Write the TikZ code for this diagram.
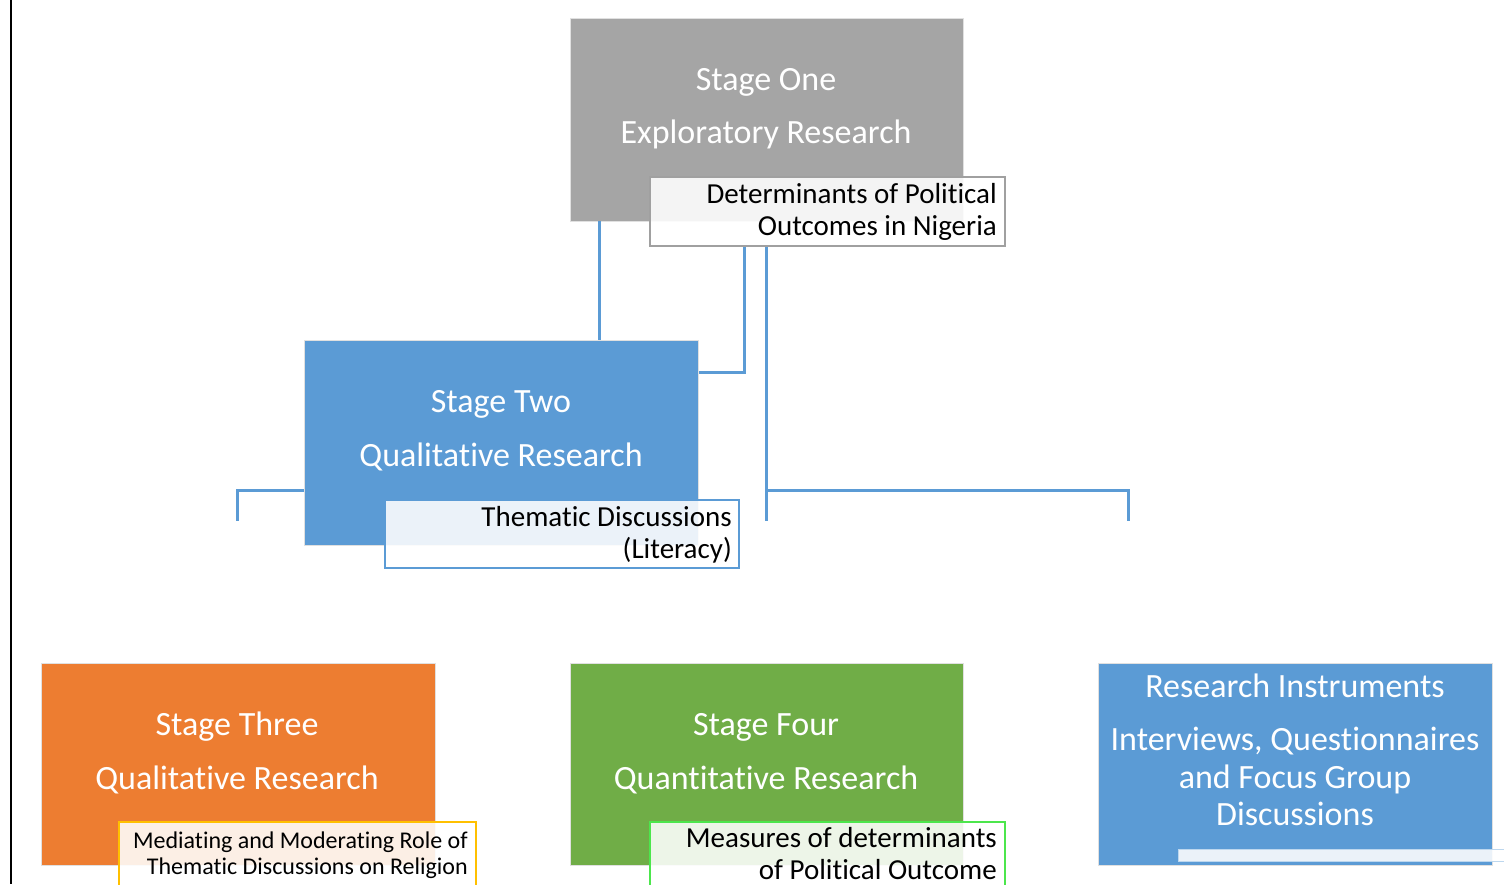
\documentclass[tikz,border=0pt]{standalone}
\usepackage{fontspec}
\setmainfont{Carlito}[RawFeature={-liga;-clig;-dlig}]
\definecolor{sgray}{HTML}{A5A5A5}
\definecolor{sgrayline}{HTML}{A0A0A0}
\definecolor{sblue}{HTML}{5B9BD5}
\definecolor{sorange}{HTML}{ED7D31}
\definecolor{sgreen}{HTML}{70AD47}
\definecolor{sgold}{HTML}{FFC000}
\definecolor{slime}{HTML}{4CE64C}
\begin{document}
\begin{tikzpicture}[x=1pt,y=-1pt,
  stagebox/.style={draw=black!12, line width=1pt, inner sep=0pt, anchor=north west},
  subbox/.style={fill=white, fill opacity=0.88, line width=2pt, inner sep=0pt, anchor=north west},
  maintext/.style={text=white, font=\fontsize{34}{40}\selectfont, anchor=base, inner sep=0pt},
  subtext/.style={text=black, font=\fontsize{29}{34}\selectfont, anchor=base east, inner sep=0pt},
  smalltext/.style={text=black, font=\fontsize{24}{28}\selectfont, anchor=base east, inner sep=0pt},
  conn/.style={draw=sblue, line width=3pt}
]
\useasboundingbox (0,0) rectangle (1504,884);
\fill[white] (0,0) rectangle (1504,884);
\clip (0,0) rectangle (1504,884);
\draw[black, line width=2pt] (11,0) -- (11,884);

% boxes
\node[stagebox, fill=sgray, minimum width=393pt, minimum height=203pt] (s1) at (570,18) {};
\node[stagebox, fill=sblue, minimum width=394pt, minimum height=205pt] (s2) at (304,340) {};
\node[stagebox, fill=sorange, minimum width=394pt, minimum height=202pt] (s3) at (41,663) {};
\node[stagebox, fill=sgreen, minimum width=393pt, minimum height=202pt] (s4) at (570,663) {};
\node[stagebox, fill=sblue, minimum width=394pt, minimum height=202pt] (s5) at (1098,663) {};

% connector coordinates
\coordinate (a1) at (599,221);
\coordinate (a2) at (599,340);
\coordinate (b1) at (744,245);
\coordinate (b2) at (744,372);
\coordinate (c1) at (766,245);
\coordinate (c2) at (766,521);
\coordinate (c3) at (1128,521);
\coordinate (cj) at (766,490);
\coordinate (d1) at (237,521);
\coordinate (dj) at (304,490);

\draw[conn] (a1) -- (a2);
\draw[conn] (b1) -- (b2) -- (b2 -| s2.east);
\draw[conn] (c1) -- (c2);
\draw[conn] (cj) -| (c3);
\draw[conn] (dj) -| (d1);

% sub boxes
\node[subbox, draw=sgrayline, minimum width=355pt, minimum height=69pt] (u1) at (649,176) {};
\node[subbox, draw=sblue, minimum width=354pt, minimum height=68pt] (u2) at (384,499) {};
\node[subbox, draw=sgold, minimum width=357pt, minimum height=80pt] (u3) at (118,821) {};
\node[subbox, draw=slime, minimum width=355pt, minimum height=80pt] (u4) at (649,821) {};
\node[subbox, draw=sblue!40, line width=1pt, minimum width=360pt, minimum height=12pt] (u5) at (1178,849) {};

% texts
\node[maintext] (t1a) at (766,90) {Stage One};
\node[maintext] (t1b) at (766,143) {Exploratory Research};
\node[maintext] (t2a) at (501,412) {Stage Two};
\node[maintext] (t2b) at (501,466) {Qualitative Research};
\node[maintext] (t3a) at (237,735) {Stage Three};
\node[maintext] (t3b) at (237,789) {Qualitative Research};
\node[maintext] (t4a) at (766,735) {Stage Four};
\node[maintext] (t4b) at (766,789) {Quantitative Research};
\node[maintext] (t5a) at (1295,697) {Research Instruments};
\node[maintext] (t5b) at (1295,750) {Interviews, Questionnaires};
\node[maintext] (t5c) at (1295,788) {and Focus Group};
\node[maintext] (t5d) at (1295,825) {Discussions};

\node[subtext] (v1a) at (997,203) {Determinants of Political};
\node[subtext] (v1b) at (997,235) {Outcomes in Nigeria};
\node[subtext] (v2a) at (732,526) {Thematic Discussions};
\node[subtext] (v2b) at (732,558) {(Literacy)};
\node[smalltext] (v3a) at (468,848) {Mediating and Moderating Role of};
\node[smalltext] (v3b) at (468,874) {Thematic Discussions on Religion};
\node[subtext] (v4a) at (997,847) {Measures of determinants};
\node[subtext] (v4b) at (997,879) {of Political Outcome};
\end{tikzpicture}
\end{document}
